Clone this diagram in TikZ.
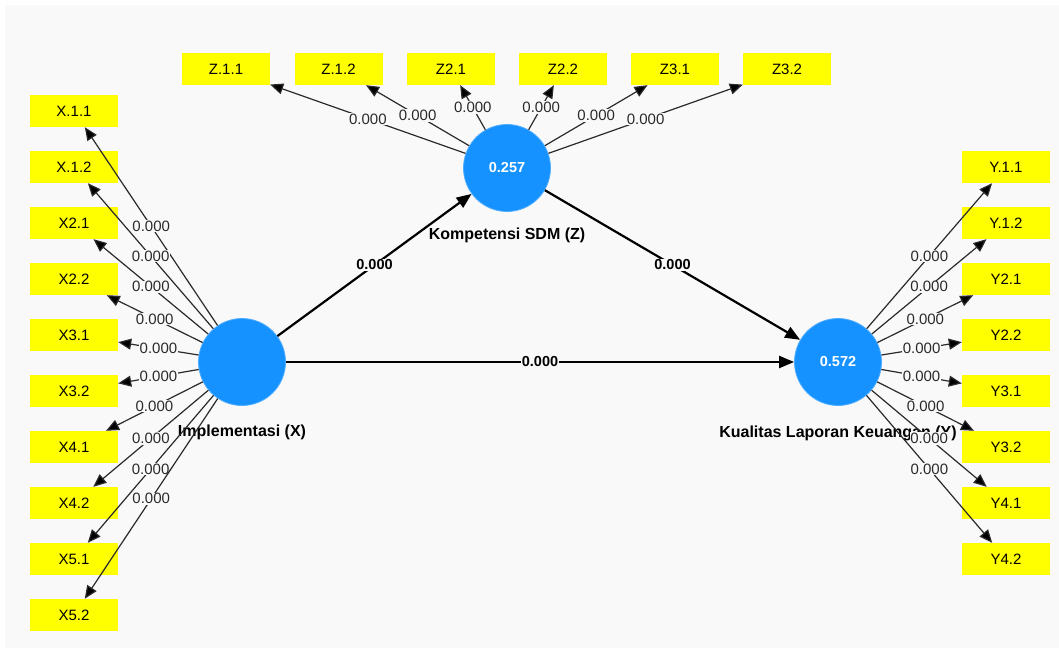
\documentclass[tikz,border=0pt]{standalone}
\usepackage{fontspec}
\setmainfont{Liberation Sans}
\usetikzlibrary{arrows.meta}
\definecolor{panel}{HTML}{F9F9F9}
\definecolor{lv}{HTML}{1592FF}
\definecolor{ind}{HTML}{FFFF00}
\definecolor{lbl}{HTML}{2A2A2A}
\begin{document}
\begin{tikzpicture}[x=1bp,y=-1bp,
 lvnode/.style={circle, fill=lv, draw=lv!75!white, line width=0.8bp, minimum size=87bp, inner sep=0pt, text=white, font=\fontsize{14.5bp}{16bp}\selectfont\bfseries},
 indbox/.style={rectangle, fill=ind, minimum width=88bp, minimum height=32bp, inner sep=0pt, font=\fontsize{15bp}{17bp}\selectfont},
 lvlabel/.style={font=\fontsize{16bp}{19bp}\selectfont\bfseries},
 outer/.style={draw=lbl, line width=1.2bp, -{Triangle[length=13bp,width=11bp,fill=black]}},
 inner/.style={draw=black, line width=2.2bp, -{Triangle[length=15bp,width=12bp]}},
 wl/.style={fill=panel, inner sep=0.8bp, text=lbl, font=\fontsize{15bp}{17bp}\selectfont},
 wlb/.style={fill=panel, inner sep=1bp, font=\fontsize{14.5bp}{17bp}\selectfont\bfseries},
]
\fill[white] (0,0) rectangle (1059,653);
\fill[panel] (5,5) rectangle (1059,648);
\useasboundingbox (0,0) rectangle (1059,653);

% construct labels (behind edges)
\node[lvlabel] (Zl) at (507,235) {Kompetensi SDM (Z)};
\node[lvlabel] (Xl) at (242,432) {Implementasi (X)};
\node[lvlabel] (Yl) at (838,433) {Kualitas Laporan Keuangan (Y)};

% latent variables
\node[lvnode] (Z) at (507,168) {0.257};
\node[lvnode] (X) at (242,362) {};
\node[lvnode] (Y) at (838,362) {0.572};

% Z indicators
\node[indbox] (Z11) at (226,69) {Z.1.1};
\node[indbox] (Z12) at (338.5,69) {Z.1.2};
\node[indbox] (Z21) at (451,69) {Z2.1};
\node[indbox] (Z22) at (563,69) {Z2.2};
\node[indbox] (Z31) at (675,69) {Z3.1};
\node[indbox] (Z32) at (787,69) {Z3.2};

% X indicators
\node[indbox] (X11) at (74,111) {X.1.1};
\node[indbox] (X12) at (74,167) {X.1.2};
\node[indbox] (X21) at (74,223) {X2.1};
\node[indbox] (X22) at (74,279) {X2.2};
\node[indbox] (X31) at (74,335) {X3.1};
\node[indbox] (X32) at (74,391) {X3.2};
\node[indbox] (X41) at (74,447) {X4.1};
\node[indbox] (X42) at (74,503) {X4.2};
\node[indbox] (X51) at (74,559) {X5.1};
\node[indbox] (X52) at (74,615) {X5.2};

% Y indicators
\node[indbox] (Y11) at (1006,167) {Y.1.1};
\node[indbox] (Y12) at (1006,223) {Y.1.2};
\node[indbox] (Y21) at (1006,279) {Y2.1};
\node[indbox] (Y22) at (1006,335) {Y2.2};
\node[indbox] (Y31) at (1006,391) {Y3.1};
\node[indbox] (Y32) at (1006,447) {Y3.2};
\node[indbox] (Y41) at (1006,503) {Y4.1};
\node[indbox] (Y42) at (1006,559) {Y4.2};

% outer edges
\foreach \t in {Z11,Z12,Z21,Z22,Z31,Z32}
  \draw[outer] (Z) -- node[wl] {0.000} (\t);
\foreach \t in {X11,X12,X21,X22,X31,X32,X41,X42,X51,X52}
  \draw[outer] (X) -- node[wl] {0.000} (\t);
\foreach \t in {Y11,Y12,Y21,Y22,Y31,Y32,Y41,Y42}
  \draw[outer] (Y) -- node[wl] {0.000} (\t);

% inner edges
\draw[inner] (X) -- node[wlb] {0.000} (Z);
\draw[inner] (Z) -- node[wlb] {0.000} (Y);
\draw[inner] (X) -- node[wlb] {0.000} (Y);
\end{tikzpicture}
\end{document}
